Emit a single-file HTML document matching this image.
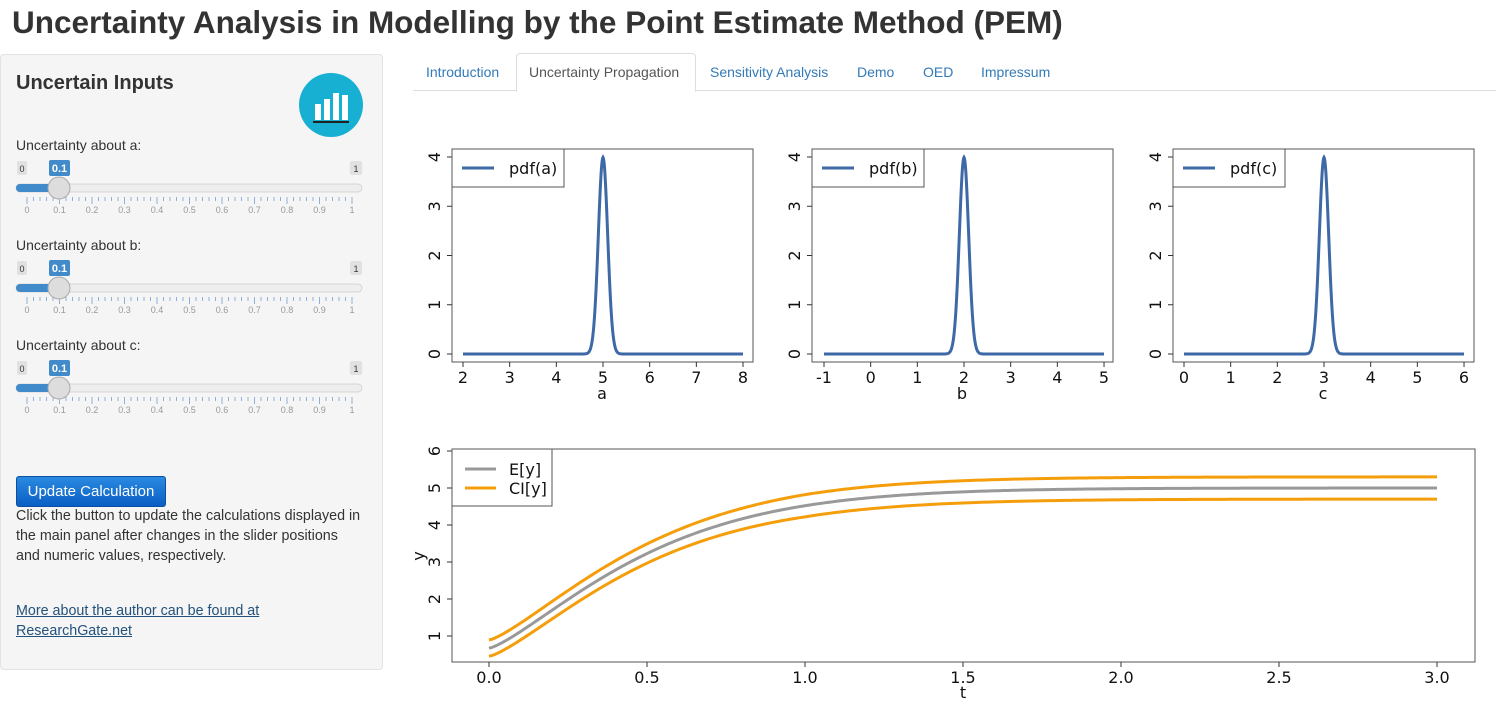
<!DOCTYPE html>
<html><head><meta charset="utf-8">
<style>
body{margin:0;width:1496px;height:702px;background:#fff;font-family:"Liberation Sans",sans-serif;color:#333;position:relative;overflow:hidden}
.abs{position:absolute}
h1{position:absolute;left:12px;top:4px;margin:0;font-size:31.5px;font-weight:bold;color:#333;white-space:nowrap}
.side{position:absolute;left:0;top:54px;width:381px;height:614px;background:#f5f5f5;border:1px solid #e3e3e3;border-radius:4px}
.tab{position:absolute;top:64px;font-size:14px;color:#337ab7}
</style></head><body>
<h1>Uncertainty Analysis in Modelling by the Point Estimate Method (PEM)</h1>
<div class="side"></div>
<div class="abs" style="left:16px;top:72px;font-size:20px;font-weight:bold;color:#333">Uncertain Inputs</div>
<svg class="abs" style="left:0;top:0" width="400" height="702" id="sl">
<circle cx="331" cy="105" r="32" fill="#18b0d2"/>
<rect x="315" y="104" width="6" height="16" fill="#fff"/><rect x="324" y="99" width="6" height="21" fill="#fff"/><rect x="333" y="93" width="6" height="27" fill="#fff"/><rect x="342" y="95" width="6" height="25" fill="#fff"/>
<rect x="313" y="121" width="36" height="2" fill="#222"/>
</svg>
<div class="abs" style="left:16px;top:476px;width:148px;height:29px;background:linear-gradient(#2a8ae0,#0b5fc4);border:1px solid #0a4fa0;border-radius:3px;color:#fff;font-size:15px;line-height:29px;text-align:center">Update Calculation</div>
<div class="abs" style="left:16px;top:506px;width:346px;font-size:14.3px;line-height:20px;color:#333">Click the button to update the calculations displayed in the main panel after changes in the slider positions and numeric values, respectively.</div>
<div class="abs" style="left:16px;top:601px;width:300px;font-size:14.3px;line-height:20px;color:#23527c;text-decoration:underline">More about the author can be found at ResearchGate.net</div>

<div class="abs" style="left:413px;top:90px;width:1083px;height:1px;background:#ddd"></div>
<div class="abs" style="left:516px;top:53px;width:178px;height:37px;border:1px solid #ddd;border-bottom:1px solid #fff;border-radius:4px 4px 0 0;background:#fff"></div>
<div class="tab" style="left:426px">Introduction</div>
<div class="tab" style="left:529px;color:#555">Uncertainty Propagation</div>
<div class="tab" style="left:710px">Sensitivity Analysis</div>
<div class="tab" style="left:857px">Demo</div>
<div class="tab" style="left:923px">OED</div>
<div class="tab" style="left:981px">Impressum</div>

<svg class="abs" style="left:0;top:0" width="1496" height="702" id="pl" font-family="DejaVu Sans, Liberation Sans, sans-serif"></svg>
<script>
var s=document.getElementById('sl'),h='';
['a','b','c'].forEach(function(n,i){var o=i*100;
h+='<text x="16" y="'+(150+o)+'" font-size="14" fill="#333">Uncertainty about '+n+':</text>';
h+='<rect x="17" y="'+(161+o)+'" width="10" height="14" rx="2" fill="#e1e1e1"/><text x="22" y="'+(172+o)+'" font-size="9" fill="#333" text-anchor="middle">0</text>';
h+='<rect x="350" y="'+(161+o)+'" width="12" height="14" rx="2" fill="#e1e1e1"/><text x="356" y="'+(172+o)+'" font-size="9" fill="#333" text-anchor="middle">1</text>';
h+='<rect x="49" y="'+(160+o)+'" width="21" height="16" rx="2" fill="#428bca"/><text x="59.5" y="'+(172+o)+'" font-size="11" font-weight="bold" fill="#fff" text-anchor="middle">0.1</text>';
h+='<rect x="16" y="'+(184+o)+'" width="346" height="8" rx="4" fill="#eee" stroke="#ccc" stroke-width="0.7"/>';
h+='<rect x="16" y="'+(184+o)+'" width="44" height="8" rx="4" fill="#428bca"/>';
for(var k=0;k<=50;k++){var x=27+k*6.5;var big=k%5==0;h+='<line x1="'+x+'" x2="'+x+'" y1="'+(197+o)+'" y2="'+(big?204+o:201+o)+'" stroke="#8fb1d6"/>';
if(big){var v=k/50;h+='<text x="'+x+'" y="'+(213+o)+'" font-size="9" fill="#999" text-anchor="middle">'+(v==0?'0':v==1?'1':v.toFixed(1))+'</text>';}}
h+='<circle cx="59" cy="'+(188+o)+'" r="11" fill="#ddd" stroke="#aaa"/>';
});
s.innerHTML+=h;
var p=document.getElementById('pl'),g='',FS=16;
function pdf(x,m){return Math.exp(-Math.pow((x-m)/0.1,2)/2)/(0.1*Math.sqrt(2*Math.PI));}
[[452,463,2,'a',5],[812,824,-1,'b',2],[1173,1184,0,'c',3]].forEach(function(q){
var L=q[0],x0=q[1],xs=46.67,v0=q[2];
g+='<rect x="'+L+'" y="149" width="301" height="213" fill="none" stroke="#555"/>';
var d='';for(var i=0;i<=600;i++){var xv=v0+i*0.01;d+=(i?'L':'M')+(x0+(xv-v0)*xs).toFixed(2)+','+(354-pdf(xv,q[4])*49.25).toFixed(2);}
g+='<path d="'+d+'" fill="none" stroke="#3d6aa6" stroke-width="3"/>';
for(var k=0;k<=6;k++){var x=x0+k*xs;g+='<line x1="'+x+'" x2="'+x+'" y1="362" y2="367" stroke="#333"/><text x="'+x+'" y="383" font-size="'+FS+'" text-anchor="middle" fill="#111">'+(v0+k)+'</text>';}
for(var k=0;k<=4;k++){var y=354-k*49.25;g+='<line x1="'+(L-5)+'" x2="'+L+'" y1="'+y+'" y2="'+y+'" stroke="#333"/><text transform="translate('+(L-12)+','+y+') rotate(-90)" font-size="'+FS+'" text-anchor="middle" fill="#111">'+k+'</text>';}
g+='<text x="'+(L+150)+'" y="399" font-size="'+FS+'" text-anchor="middle" fill="#111">'+q[3]+'</text>';
g+='<rect x="'+L+'" y="149" width="112" height="38" fill="#fff" stroke="#555"/><line x1="'+(L+10)+'" x2="'+(L+42)+'" y1="168" y2="168" stroke="#3d6aa6" stroke-width="3"/><text x="'+(L+57)+'" y="174" font-size="'+FS+'" fill="#111">pdf('+q[3]+')</text>';
});
function f(t){return 5-4.33*Math.exp(-2.2*Math.pow(t,1.3));}
function X(t){return 489+t*316;}function YY(v){return 636-(v-1)*37;}
var dm='',du='',dl='';for(var i=0;i<=300;i++){var t=i*0.01,v=f(t),dv=0.22+0.08*Math.min(t,1);
dm+=(i?'L':'M')+X(t).toFixed(2)+','+YY(v).toFixed(2);du+=(i?'L':'M')+X(t).toFixed(2)+','+YY(v+dv).toFixed(2);dl+=(i?'L':'M')+X(t).toFixed(2)+','+YY(v-dv).toFixed(2);}
g+='<rect x="452" y="449" width="1023" height="213" fill="none" stroke="#555"/>';
g+='<path d="'+du+'" fill="none" stroke="#f59e0b" stroke-width="3"/><path d="'+dl+'" fill="none" stroke="#f59e0b" stroke-width="3"/><path d="'+dm+'" fill="none" stroke="#999" stroke-width="3"/>';
for(var k=0;k<=6;k++){var t=k*0.5,x=X(t);g+='<line x1="'+x+'" x2="'+x+'" y1="662" y2="667" stroke="#333"/><text x="'+x+'" y="683" font-size="'+FS+'" text-anchor="middle" fill="#111">'+t.toFixed(1)+'</text>';}
for(var k=1;k<=6;k++){var y=YY(k);g+='<line x1="447" x2="452" y1="'+y+'" y2="'+y+'" stroke="#333"/><text transform="translate(440,'+y+') rotate(-90)" font-size="'+FS+'" text-anchor="middle" fill="#111">'+k+'</text>';}
g+='<text x="963" y="698" font-size="'+FS+'" text-anchor="middle" fill="#111">t</text><text transform="translate(424,556) rotate(-90)" font-size="'+FS+'" text-anchor="middle" fill="#111">y</text>';
g+='<rect x="452" y="449" width="100" height="57" fill="#fff" stroke="#555"/><line x1="465" x2="496" y1="469" y2="469" stroke="#999" stroke-width="3"/><line x1="465" x2="496" y1="488" y2="488" stroke="#f59e0b" stroke-width="3"/><text x="509" y="475" font-size="'+FS+'" fill="#111">E[y]</text><text x="509" y="494" font-size="'+FS+'" fill="#111">CI[y]</text>';
p.innerHTML=g;
</script>
</body></html>
